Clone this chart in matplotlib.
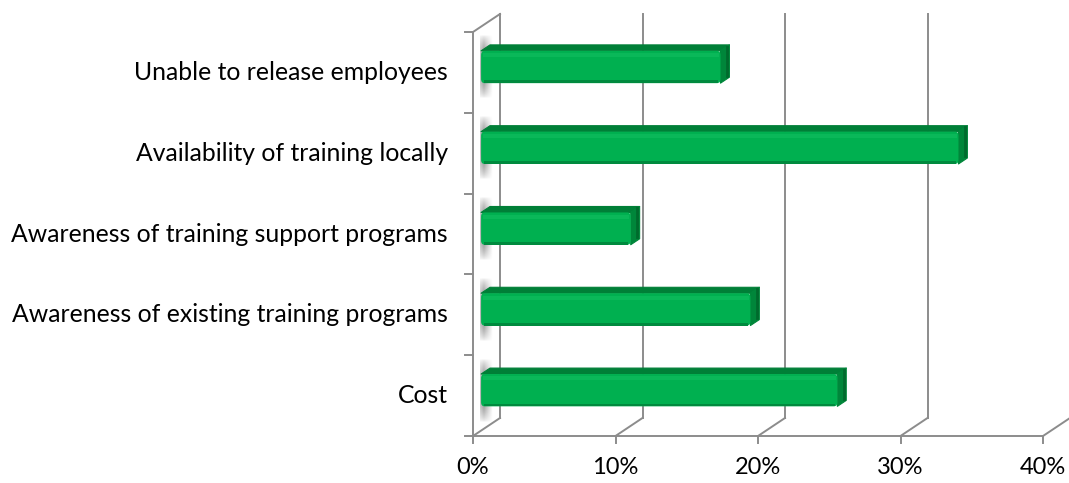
import numpy as np
import matplotlib.pyplot as plt
from matplotlib.patches import Polygon, Rectangle, FancyBboxPatch

# barriers to training, share of respondents (%)
categories = ["Cost",
              "Awareness of existing training programs",
              "Awareness of training support programs",
              "Availability of training locally",
              "Unable to release employees"]
values = [25.0, 18.9, 10.5, 33.5, 16.8]
ticks = [0, 10, 20, 30, 40]
tick_labels = ["0%", "10%", "20%", "30%", "40%"]

# pseudo-3D geometry (in data units)
DX, DY = 1.895, 0.223          # depth offset of the back wall
D0, D1 = 0.30, 0.63            # depth range occupied by the bars
HALF = 0.20                    # half bar height (gap width 150%)

GRID = "#8c8c8c"
FRONT = "#00b050"
TOP = "#007f37"
SIDE = "#00863a"

plt.rcParams["font.family"] = ["Lato", "DejaVu Sans"]

fig = plt.figure(figsize=(10.69, 4.83), dpi=100)
ax = fig.add_axes([0, 0, 1, 1])
xlim = (-473 / 14.25, (1069 - 473) / 14.25)
ylim = (-47 / 80.8 - 0.5, 436 / 80.8 - 0.5)
ax.axis("off")

n = len(categories)
y_lo, y_hi = -0.5, n - 0.5
lw = 1.4

# back wall gridlines and floor diagonals
for t in ticks:
    ax.plot([t + DX, t + DX], [y_lo + DY, y_hi + DY], color=GRID, lw=lw, zorder=1)
    ax.plot([t, t + DX], [y_lo, y_lo + DY], color=GRID, lw=lw, zorder=1)
    ax.plot([t, t], [y_lo, y_lo - 7 / 80.8], color=GRID, lw=lw, zorder=1)

# side wall edges, front axes
ax.plot([0, 0], [y_lo, y_hi], color=GRID, lw=lw, zorder=1)
ax.plot([0, DX], [y_hi, y_hi + DY], color=GRID, lw=lw, zorder=1)
ax.plot([ticks[0], ticks[-1]], [y_lo, y_lo], color=GRID, lw=lw, zorder=1)
for b in np.arange(y_lo, y_hi + 0.01, 1.0):
    ax.plot([0, -8 / 14.25], [b, b], color=GRID, lw=lw, zorder=1)

# soft shadow streak behind the left end of each bar
gx = np.concatenate([np.linspace(0.6, 1, 6), np.linspace(1, 0, 14)])
gy = np.sin(np.linspace(0, np.pi, 40)) ** 0.7
shade = np.zeros((40, 20, 4))
shade[..., :3] = 0.40
shade[..., 3] = np.outer(gy, gx) * 0.75

for i, v in enumerate(values):
    yc = i + D0 * DY
    ax.imshow(shade, extent=(0.50, 1.35, yc - 0.40, yc + 0.40),
              aspect="auto", zorder=2, interpolation="bilinear")

    x0f, x1f = D0 * DX, v + D0 * DX
    x0b, x1b = D1 * DX, v + D1 * DX
    yb = i + D1 * DY
    top = Polygon([(x0f, yc + HALF), (x1f, yc + HALF), (x1b, yb + HALF), (x0b, yb + HALF)],
                  closed=True, fc=TOP, ec=TOP, lw=0.8, joinstyle="round", zorder=3)
    side = Polygon([(x1f, yc - HALF), (x1b, yb - HALF), (x1b, yb + HALF), (x1f, yc + HALF)],
                   closed=True, fc=SIDE, ec=SIDE, lw=0.8, joinstyle="round", zorder=3)
    ax.add_patch(top)
    ax.add_patch(side)
    ax.plot([x1b - 0.15, x1b - 0.15], [yb - HALF + 0.02, yb + HALF - 0.02],
            color="#006a2d", lw=2.0, zorder=3)
    ax.add_patch(FancyBboxPatch((x0f, yc - HALF), v, 2 * HALF,
                                boxstyle="round,pad=0,rounding_size=0.25",
                                mutation_aspect=0.2, fc=FRONT, ec="none", zorder=4))
    # bevel highlight and bottom edge
    ax.add_patch(Rectangle((x0f + 0.1, yc + HALF - 0.08), v - 0.2, 0.05,
                           fc="#0ab859", ec="none", zorder=4))
    ax.add_patch(Rectangle((x0f + 0.2, yc - HALF), v - 0.4, 0.035,
                           fc="#008a3e", ec="none", zorder=4))

    ax.text(-25 / 14.25, i, categories[i], ha="right", va="center", fontsize=17.8, color="black")

for t, lab in zip(ticks, tick_labels):
    ax.text(t, y_lo - 32 / 80.8, lab, ha="center", va="center", fontsize=17, color="black")

ax.set_xlim(*xlim)
ax.set_ylim(*ylim)

fig.savefig("out.png", dpi=100, facecolor="white")
